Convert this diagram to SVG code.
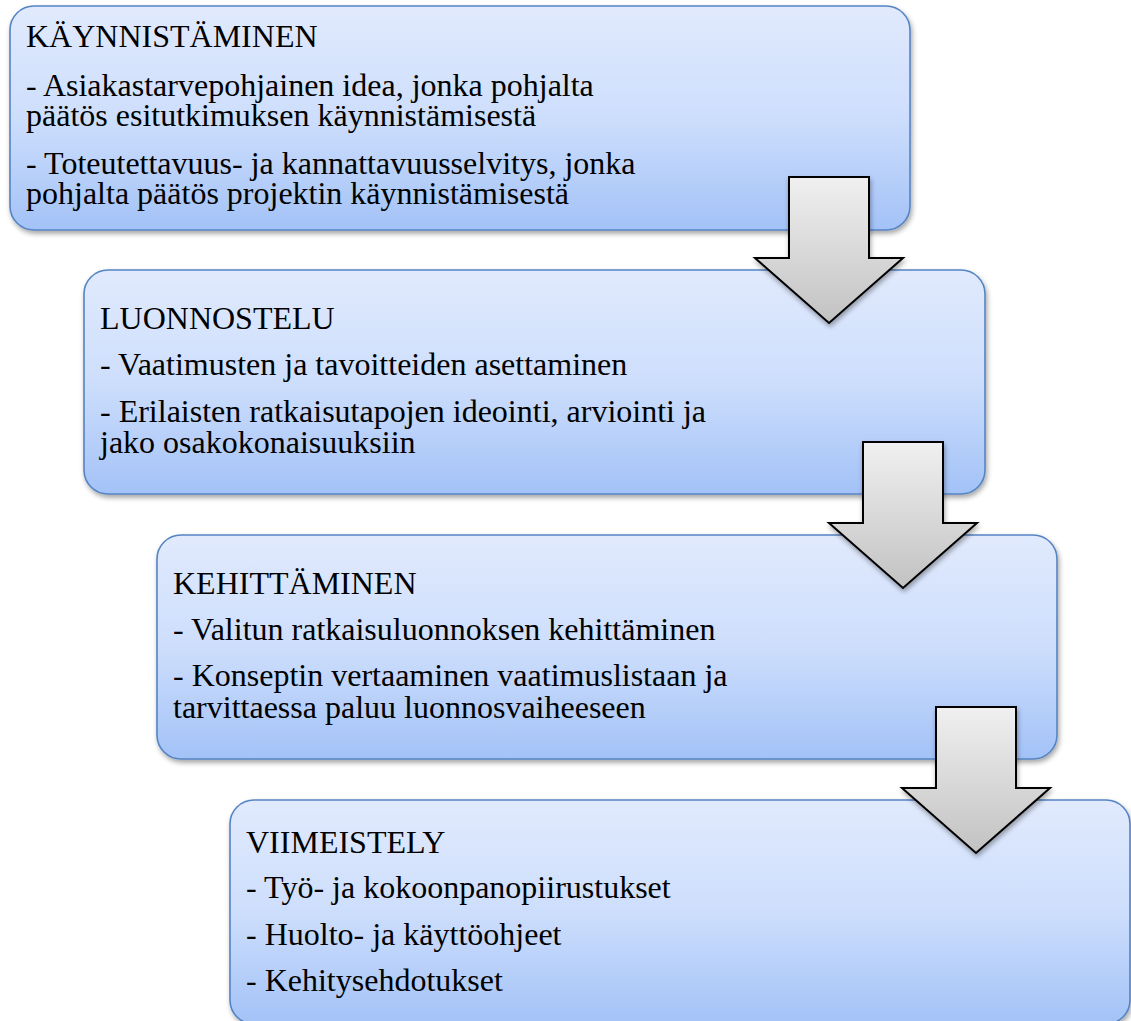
<svg xmlns="http://www.w3.org/2000/svg" width="1131" height="1021" viewBox="0 0 1131 1021">
<style>
.box{fill:url(#boxGrad);stroke:#5584c4;stroke-width:1.6;filter:url(#shadow)}
.arrow{fill:url(#arrowGrad);stroke:#000;stroke-width:2;stroke-linejoin:miter;filter:url(#ashadow)}
.t{font-family:'Liberation Serif','Times New Roman',serif;font-size:32px;fill:#000}
</style>
<defs>
<linearGradient id="boxGrad" x1="0" y1="0" x2="0" y2="1">
<stop offset="0" stop-color="#e1eafd"/>
<stop offset="0.5" stop-color="#cddefc"/>
<stop offset="1" stop-color="#a3c2f7"/>
</linearGradient>
<linearGradient id="arrowGrad" x1="0" y1="0" x2="0" y2="1">
<stop offset="0" stop-color="#f0f0f0"/>
<stop offset="1" stop-color="#c2c2c2"/>
</linearGradient>
<filter id="shadow" x="-5%" y="-5%" width="112%" height="115%">
<feDropShadow dx="1.5" dy="3" stdDeviation="2.5" flood-color="#000" flood-opacity="0.35"/>
</filter>
<filter id="ashadow" x="-10%" y="-10%" width="125%" height="125%">
<feDropShadow dx="1" dy="3" stdDeviation="2.5" flood-color="#000" flood-opacity="0.35"/>
</filter>
<path id="downArrow" d="M-40,0 H40 V81 H74 L0,146 L-74,81 H-40 Z"/>
</defs>

<g id="node-kaynnistaminen">
<rect class="box" x="10" y="6" width="900" height="224" rx="24"/>
<g class="t">
<text x="26" y="47">KÄYNNISTÄMINEN</text>
<text x="26" y="96">- Asiakastarvepohjainen idea, jonka pohjalta</text>
<text x="26" y="126">päätös esitutkimuksen käynnistämisestä</text>
<text x="26" y="174">- Toteutettavuus- ja kannattavuusselvitys, jonka</text>
<text x="26" y="204">pohjalta päätös projektin käynnistämisestä</text>
</g>
</g>

<g id="node-luonnostelu">
<rect class="box" x="84" y="270" width="901" height="224" rx="24"/>
<g class="t">
<text x="100" y="329">LUONNOSTELU</text>
<text x="100" y="375">- Vaatimusten ja tavoitteiden asettaminen</text>
<text x="100" y="422">- Erilaisten ratkaisutapojen ideointi, arviointi ja</text>
<text x="100" y="453">jako osakokonaisuuksiin</text>
</g>
</g>

<g id="node-kehittaminen">
<rect class="box" x="157" y="535" width="900" height="224" rx="24"/>
<g class="t">
<text x="173" y="594">KEHITTÄMINEN</text>
<text x="173" y="640">- Valitun ratkaisuluonnoksen kehittäminen</text>
<text x="173" y="686">- Konseptin vertaaminen vaatimuslistaan ja</text>
<text x="173" y="718">tarvittaessa paluu luonnosvaiheeseen</text>
</g>
</g>

<g id="node-viimeistely">
<rect class="box" x="230" y="800" width="900" height="224" rx="24"/>
<g class="t">
<text x="246" y="853">VIIMEISTELY</text>
<text x="246" y="898">- Työ- ja kokoonpanopiirustukset</text>
<text x="246" y="945">- Huolto- ja käyttöohjeet</text>
<text x="246" y="991">- Kehitysehdotukset</text>
</g>
</g>

<g id="connectors">
<use href="#downArrow" class="arrow" transform="translate(829,177)"/>
<use href="#downArrow" class="arrow" transform="translate(903,442)"/>
<use href="#downArrow" class="arrow" transform="translate(976,707)"/>
</g>
</svg>
